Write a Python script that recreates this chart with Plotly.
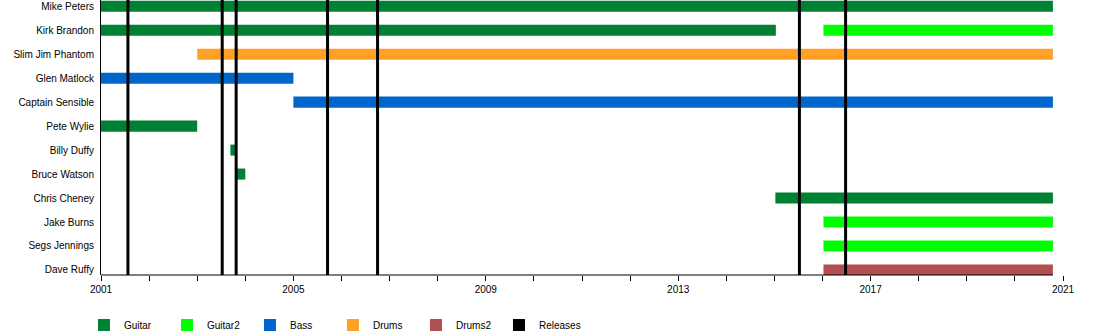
import plotly.graph_objects as go

# ---- data ----
members = ["Mike Peters", "Kirk Brandon", "Slim Jim Phantom", "Glen Matlock",
           "Captain Sensible", "Pete Wylie", "Billy Duffy", "Bruce Watson",
           "Chris Cheney", "Jake Burns", "Segs Jennings", "Dave Ruffy"]

seg_member = ["Mike Peters", "Kirk Brandon", "Kirk Brandon", "Slim Jim Phantom",
              "Glen Matlock", "Captain Sensible", "Pete Wylie", "Billy Duffy",
              "Bruce Watson", "Chris Cheney", "Jake Burns", "Segs Jennings",
              "Dave Ruffy"]
seg_start = [2001.0, 2001.0, 2016.02, 2003.0, 2001.0, 2005.0, 2001.0, 2003.69,
             2003.8, 2015.02, 2016.02, 2016.02, 2016.02]
seg_end = [2020.79, 2015.03, 2020.79, 2020.79, 2005.0, 2020.79, 2003.0, 2003.81,
           2004.0, 2020.79, 2020.79, 2020.79, 2020.79]
seg_role = ["Guitar", "Guitar", "Guitar2", "Drums", "Bass", "Bass", "Guitar",
            "Guitar", "Guitar", "Guitar", "Guitar2", "Guitar2", "Drums2"]

roles = ["Guitar", "Guitar2", "Bass", "Drums", "Drums2"]
role_colors = ["#008033", "#00FF00", "#0066CC", "#FFA126", "#B24F50"]

releases = [2001.56, 2003.52, 2003.81, 2005.71, 2006.75, 2015.52, 2016.48]

axis_start = 2001
axis_end = 2021
timeline_end = 2020.79
tick_years = [2001, 2005, 2009, 2013, 2017, 2021]

FONT = "Liberation Sans, Arial, sans-serif"

fig = go.Figure()

# bars, one trace per role
for role, color in zip(roles, role_colors):
    ys, bases, lens = [], [], []
    for m, s, e, r in zip(seg_member, seg_start, seg_end, seg_role):
        if r == role:
            ys.append(m)
            bases.append(s)
            lens.append(e - s)
    fig.add_trace(go.Bar(
        y=ys, x=lens, base=bases, orientation="h",
        marker=dict(color=color, line=dict(width=0)),
        width=0.46, showlegend=False, hoverinfo="skip",
    ))

# legend entries
for role, color in zip(roles + ["Releases"], role_colors + ["#000000"]):
    fig.add_trace(go.Scatter(
        x=[None], y=[None], mode="markers", name=role,
        marker=dict(symbol="square", size=12, color=color),
    ))

# release lines
for d in releases:
    fig.add_vline(x=d, line=dict(color="black", width=3), layer="above")

# x axis line (ends with timeline)
fig.add_shape(type="line", xref="x", yref="paper", x0=axis_start, x1=timeline_end,
              y0=0, y1=0, line=dict(color="black", width=1), layer="above")

fig.update_layout(
    width=1100, height=335,
    margin=dict(l=101, r=37, t=0, b=60, autoexpand=False),
    paper_bgcolor="white", plot_bgcolor="white",
    barmode="overlay",
    font=dict(family=FONT, size=10, color="black"),
    showlegend=True,
    legend=dict(
        orientation="h", x=-0.0177, xanchor="left", y=-0.182, yanchor="middle",
        font=dict(family=FONT, size=10, color="black"),
        entrywidth=38, entrywidthmode="pixels",
        bgcolor="rgba(0,0,0,0)",
    ),
    hovermode=False,
)

fig.update_xaxes(
    range=[axis_start, axis_end],
    tickvals=tick_years, ticktext=[str(t) for t in tick_years],
    ticks="outside", ticklen=5, tickcolor="black", tickwidth=1,
    minor=dict(dtick=1, tick0=axis_start, ticks="outside", ticklen=5,
               tickcolor="black", tickwidth=1, showgrid=False),
    showgrid=False, zeroline=False, showline=False,
    tickfont=dict(family=FONT, size=10, color="black"),
)

fig.update_yaxes(
    type="category", categoryorder="array", categoryarray=members,
    range=[11.21, -0.26],
    showline=True, linecolor="black", linewidth=1,
    showgrid=False, zeroline=False, ticks="",
    ticklabelstandoff=4,
    tickfont=dict(family=FONT, size=10, color="black"),
)

fig.write_html("out.html")
